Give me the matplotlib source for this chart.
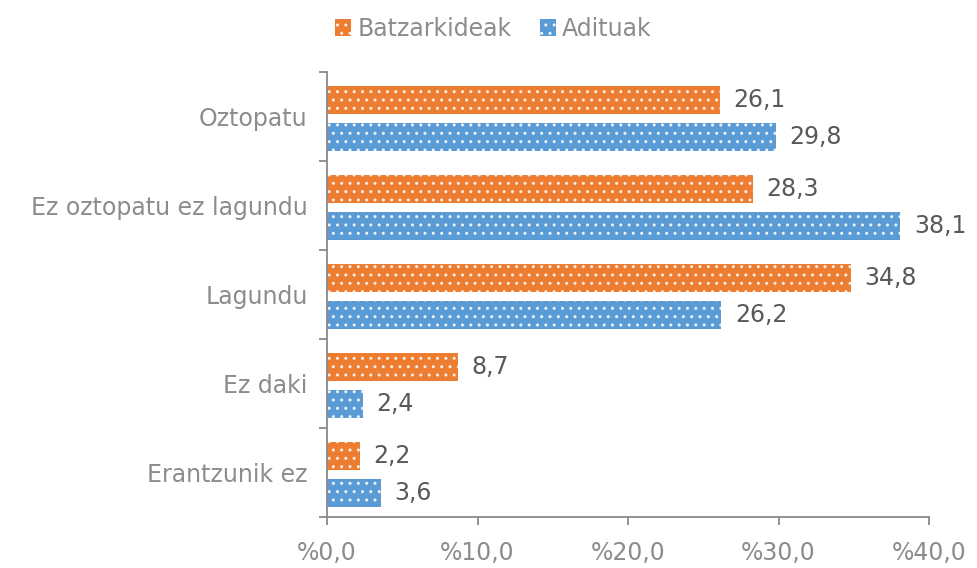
import numpy as np
import matplotlib
matplotlib.use("Agg")
import matplotlib.pyplot as plt

categories = ["Oztopatu", "Ez oztopatu ez lagundu", "Lagundu", "Ez daki", "Erantzunik ez"]
batzarkideak = [26.1, 28.3, 34.8, 8.7, 2.2]
adituak = [29.8, 38.1, 26.2, 2.4, 3.6]
series_names = ["Batzarkideak", "Adituak"]
x_ticks = [0, 10, 20, 30, 40]

orange = "#ED7D31"
blue = "#5B9BD5"
axis_gray = "#898989"
label_gray = "#8C8C8C"
value_gray = "#595959"

plt.rcParams["font.family"] = ["DejaVu Sans"]
plt.rcParams["hatch.linewidth"] = 1.0

fig = plt.figure(figsize=(9.77, 5.68), dpi=100)
ax = fig.add_axes([0.3347, 0.0898, 0.6162, 0.7834])

y = np.arange(len(categories))
h = 0.315
off = 0.2
b1 = ax.barh(y - off + 0.01, batzarkideak, height=h, color=orange, edgecolor="#FBEDE3",
             linewidth=0, hatch="..", label=series_names[0])
b2 = ax.barh(y + off + 0.03, adituak, height=h, color=blue, edgecolor="#EAF2FA",
             linewidth=0, hatch="..", label=series_names[1])

for bars, vals in ((b1, batzarkideak), (b2, adituak)):
    for bar, v in zip(bars, vals):
        ax.text(v + 0.9, bar.get_y() + bar.get_height() / 2,
                f"{v:.1f}".replace(".", ","), va="center", ha="left",
                fontsize=17, color=value_gray)

ax.set_ylim(len(categories) - 0.5, -0.5)
ax.set_xlim(0, 40)
ax.set_xticks(x_ticks)
ax.set_xticklabels([f"%{t:.1f}".replace(".", ",") for t in x_ticks])

ax.set_yticks(y)
ax.set_yticklabels(categories)
ax.set_yticks(np.arange(len(categories) + 1) - 0.5, minor=True)
ax.tick_params(axis="y", which="major", length=0, pad=14, labelsize=17, labelcolor=label_gray)
ax.tick_params(axis="y", which="minor", length=6, color=axis_gray, width=1.3)
ax.tick_params(axis="x", length=6, color=axis_gray, width=1.3, labelsize=17,
               labelcolor=label_gray, pad=11)

for s in ("top", "right"):
    ax.spines[s].set_visible(False)
for s in ("left", "bottom"):
    ax.spines[s].set_color(axis_gray)
    ax.spines[s].set_linewidth(1.3)

fig.legend(loc="upper center", bbox_to_anchor=(0.505, 1.008), ncol=2, frameon=False,
           fontsize=17, labelcolor=label_gray, handlelength=0.7, handleheight=0.7,
           handletextpad=0.25, columnspacing=1.2)

fig.savefig("out.png", dpi=100)
